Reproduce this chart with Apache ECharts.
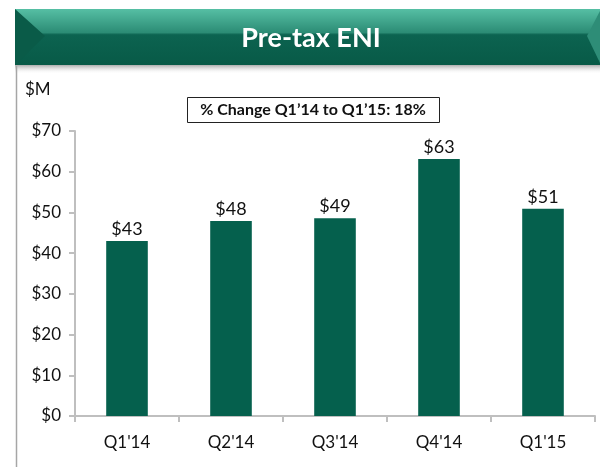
<!DOCTYPE html>
<html>
<head>
<meta charset="utf-8">
<script src="https://cdn.jsdelivr.net/npm/echarts@6/dist/echarts.min.js"></script>
<style>
  html, body { margin: 0; padding: 0; background: #fff; }
  #main { width: 600px; height: 467px; }
</style>
</head>
<body>
<div id="main"></div>
<script>
// data
var categories = ["Q1'14", "Q2'14", "Q3'14", "Q4'14", "Q1'15"];
var eniValues = [43.0, 47.9, 48.6, 63.1, 50.9];
var yTicks = [0, 10, 20, 30, 40, 50, 60, 70];

var FONT = "Lato, 'Open Sans', sans-serif";
var myChart = echarts.init(document.getElementById("main"));

var option = {
  animation: false,
  backgroundColor: "#fff",
  grid: { left: 75, right: 5, top: 131, bottom: 51 },
  xAxis: {
    type: "category",
    data: categories,
    axisLine: { lineStyle: { color: "#BFBFBF", width: 2 } },
    axisTick: { show: true, length: 6, lineStyle: { color: "#BFBFBF", width: 2 } },
    axisLabel: { color: "#111", fontSize: 17, fontFamily: FONT, margin: 18 },
  },
  yAxis: {
    type: "value",
    min: yTicks[0],
    max: yTicks[yTicks.length - 1],
    interval: 10,
    splitLine: { show: false },
    axisLine: { show: true, lineStyle: { color: "#BFBFBF", width: 2 } },
    axisTick: { show: true, length: 6, lineStyle: { color: "#BFBFBF", width: 2 } },
    axisLabel: {
      color: "#111",
      fontSize: 17,
      fontFamily: FONT,
      margin: 14,
      formatter: function (v) { return "$" + v; },
    },
  },
  series: [
    {
      type: "bar",
      data: eniValues,
      barWidth: "40%",
      itemStyle: { color: "#05604D" },
      label: {
        show: true,
        position: "top",
        distance: 3,
        color: "#111",
        fontSize: 18,
        fontFamily: FONT,
        formatter: function (p) { return "$" + Math.round(p.value); },
      },
    },
  ],
  graphic: [
    // shadow under banner
    {
      type: "rect",
      shape: { x: 15, y: 64, width: 585, height: 10 },
      style: {
        fill: new echarts.graphic.LinearGradient(0, 0, 0, 1, [
          { offset: 0, color: "#9a9a9a" },
          { offset: 1, color: "rgba(255,255,255,0)" },
        ]),
      },
    },
    // left border of panel
    {
      type: "line",
      shape: { x1: 16.5, y1: 66, x2: 16.5, y2: 467 },
      style: { stroke: "#A6A6A6", lineWidth: 1.5 },
    },
    // banner
    {
      type: "rect",
      shape: { x: 15, y: 9, width: 585, height: 56 },
      style: {
        fill: new echarts.graphic.LinearGradient(0, 0, 0, 1, [
          { offset: 0, color: "#56BFA4" },
          { offset: 0.42, color: "#2C8C75" },
          { offset: 0.46, color: "#0C6350" },
          { offset: 1, color: "#085A47" },
        ]),
      },
    },
    {
      type: "polygon",
      shape: { points: [[15, 9], [45, 36], [15, 65]] },
      style: { fill: "#0A5B48" },
    },
    {
      type: "polygon",
      shape: { points: [[600, 11], [587, 36], [600, 63]] },
      style: { fill: "#2E8D77" },
    },
    {
      type: "text",
      x: 311,
      y: 38,
      style: {
        text: "Pre-tax ENI",
        fill: "#fff",
        font: "bold 27px " + FONT,
        align: "center",
        verticalAlign: "middle",
      },
    },
    {
      type: "text",
      x: 25,
      y: 90,
      style: {
        text: "$M",
        fill: "#111",
        font: "17px " + FONT,
        align: "left",
        verticalAlign: "middle",
      },
    },
    {
      type: "rect",
      shape: { x: 187.5, y: 97.5, width: 252, height: 25 },
      style: { fill: "#fff", stroke: "#222", lineWidth: 1 },
    },
    {
      type: "text",
      x: 313,
      y: 110,
      style: {
        text: "% Change Q1\u201914 to Q1\u201915: 18%",
        fill: "#111",
        font: "bold 16px " + FONT,
        align: "center",
        verticalAlign: "middle",
      },
    },
  ],
};

myChart.setOption(option);
window.addEventListener("resize", function () {
  myChart.resize();
});
</script>
</body>
</html>
